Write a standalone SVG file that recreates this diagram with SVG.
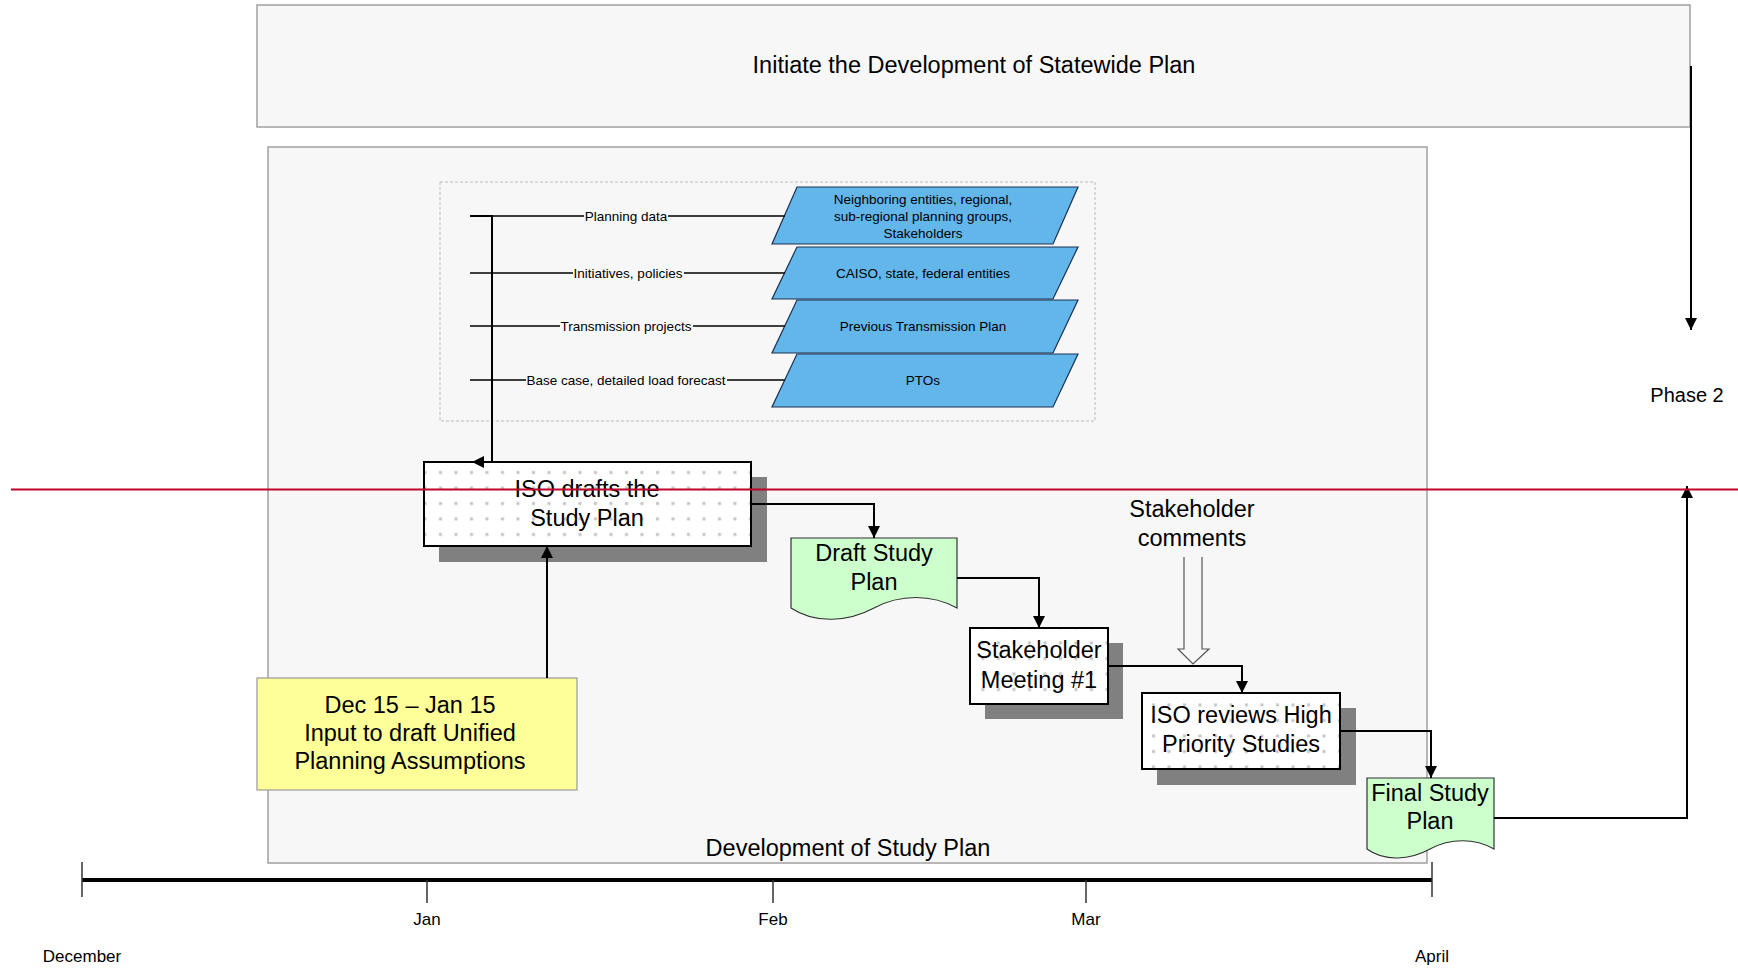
<svg xmlns="http://www.w3.org/2000/svg" width="1738" height="968" viewBox="0 0 1738 968">
<style>
text{font-family:"Liberation Sans",Arial,sans-serif;fill:#000;text-anchor:middle}
.big{font-size:23.5px}
.sm{font-size:13.5px}
.mon{font-size:17px}
.panel{fill:#f7f7f7;stroke:#a0a0a0;stroke-width:1.5}
.proc{fill:#fff;stroke:#000;stroke-width:2}
.dots{fill:url(#dots);stroke:none}
.shadow{fill:#808080}
.doc{fill:#ccffcc;stroke:#333;stroke-width:1.2}
.para{fill:#62b6ea;stroke:#1a3050;stroke-width:1.2}
.conn{fill:none;stroke:#000;stroke-width:2}
.thin{fill:none;stroke:#000;stroke-width:1.3}
.lblbg{fill:#f7f7f7}
.tick{stroke:#333;stroke-width:1.5}
</style>
<defs>
<pattern id="dots" width="15.5" height="15.5" patternUnits="userSpaceOnUse"><rect x="5" y="6" width="3" height="3" fill="#c4c4c4"/></pattern>
<marker id="arr" markerUnits="userSpaceOnUse" markerWidth="12" markerHeight="12" refX="12" refY="6" orient="auto"><path d="M0,0 L12,6 L0,12 Z" fill="#000"/></marker>
</defs>
<rect width="1738" height="968" fill="#fff"/>

<g id="statewide-plan">
<rect class="panel" x="257" y="5" width="1433" height="122"/>
<text class="big" x="974" y="73">Initiate the Development of Statewide Plan</text>
</g>

<g id="study-plan-container">
<rect class="panel" x="268" y="147" width="1159" height="716"/>
<text class="big" x="848" y="856">Development of Study Plan</text>
</g>

<g id="inputs-box">
<rect x="440" y="182" width="655" height="239" fill="#f7f7f7" stroke="#bbb" stroke-width="1" stroke-dasharray="3,2"/>
</g>

<g id="src-neighbors">
<polygon class="para" points="797,187 1078,187 1053,244 772,244"/>
<text class="sm" x="923" y="204">Neighboring entities, regional,</text>
<text class="sm" x="923" y="221">sub-regional planning groups,</text>
<text class="sm" x="923" y="238">Stakeholders</text>
</g>
<g id="src-caiso">
<polygon class="para" points="797,247 1078,247 1053,299 772,299"/>
<text class="sm" x="923" y="278">CAISO, state, federal entities</text>
</g>
<g id="src-prev-plan">
<polygon class="para" points="797,300 1078,300 1053,353 772,353"/>
<text class="sm" x="923" y="331">Previous Transmission Plan</text>
</g>
<g id="src-ptos">
<polygon class="para" points="797,354 1078,354 1053,407 772,407"/>
<text class="sm" x="923" y="385">PTOs</text>
</g>

<g id="iso-drafts">
<rect class="shadow" x="439" y="477" width="328" height="85"/>
<rect class="proc" x="424" y="462" width="327" height="84"/>
<rect class="dots" x="425" y="463" width="325" height="82"/>
<text class="big" x="587" y="497">ISO drafts the</text>
<text class="big" x="587" y="526">Study Plan</text>
</g>

<g id="draft-study-plan">
<path class="doc" d="M791,538 H957 V608 C932,594 900,594 874,608 C848,622 815,624 791,608 Z"/>
<text class="big" x="874" y="561">Draft Study</text>
<text class="big" x="874" y="590">Plan</text>
</g>

<g id="stakeholder-meeting">
<rect class="shadow" x="985" y="643" width="138" height="76"/>
<rect class="proc" x="970" y="628" width="138" height="76"/>
<rect class="dots" x="971" y="629" width="136" height="74"/>
<text class="big" x="1039" y="658">Stakeholder</text>
<text class="big" x="1039" y="688">Meeting #1</text>
</g>

<g id="stakeholder-comments">
<text class="big" x="1192" y="517">Stakeholder</text>
<text class="big" x="1192" y="546">comments</text>
<path d="M1184,557 V649 H1178 L1193,664 L1209,649 H1202 V557" fill="#f7f7f7" stroke="#555" stroke-width="1.2"/>
</g>

<g id="iso-reviews">
<rect class="shadow" x="1157" y="708" width="199" height="77"/>
<rect class="proc" x="1142" y="693" width="198" height="76"/>
<rect class="dots" x="1143" y="694" width="196" height="74"/>
<text class="big" x="1241" y="723">ISO reviews High</text>
<text class="big" x="1241" y="752">Priority Studies</text>
</g>

<g id="final-study-plan">
<path class="doc" d="M1367,778 H1494 V849 C1475,838 1450,838 1430,849 C1410,860 1385,862 1367,849 Z"/>
<text class="big" x="1430" y="801">Final Study</text>
<text class="big" x="1430" y="829">Plan</text>
</g>

<g id="upa-input">
<rect x="257" y="678" width="320" height="112" fill="#ffff99" stroke="#999" stroke-width="1.2"/>
<text class="big" x="410" y="713">Dec 15 – Jan 15</text>
<text class="big" x="410" y="741">Input to draft Unified</text>
<text class="big" x="410" y="769">Planning Assumptions</text>
</g>

<g id="phase2">
<text font-size="20" x="1687" y="402">Phase 2</text>
</g>

<g id="timeline">
<line x1="82" y1="880" x2="1432" y2="880" stroke="#000" stroke-width="4"/>
<line class="tick" x1="82" y1="862" x2="82" y2="897"/>
<line class="tick" x1="427" y1="880" x2="427" y2="903"/>
<line class="tick" x1="773" y1="880" x2="773" y2="903"/>
<line class="tick" x1="1086" y1="880" x2="1086" y2="903"/>
<line class="tick" x1="1432" y1="862" x2="1432" y2="897"/>
<text class="mon" x="427" y="925">Jan</text>
<text class="mon" x="773" y="925">Feb</text>
<text class="mon" x="1086" y="925">Mar</text>
<text class="mon" x="82" y="962">December</text>
<text class="mon" x="1432" y="962">April</text>
</g>

<g id="connectors">
<line class="thin" x1="470" y1="216" x2="785" y2="216"/>
<line class="thin" x1="470" y1="273" x2="785" y2="273"/>
<line class="thin" x1="470" y1="326" x2="785" y2="326"/>
<line class="thin" x1="470" y1="380" x2="785" y2="380"/>
<rect class="lblbg" x="584" y="208" width="84" height="16"/>
<text class="sm" x="626" y="221">Planning data</text>
<rect class="lblbg" x="573" y="265" width="111" height="16"/>
<text class="sm" x="628" y="278">Initiatives, policies</text>
<rect class="lblbg" x="560" y="318" width="133" height="16"/>
<text class="sm" x="626" y="331">Transmission projects</text>
<rect class="lblbg" x="526" y="372" width="201" height="16"/>
<text class="sm" x="626" y="385">Base case, detailed load forecast</text>
<path class="conn" d="M470,216 H492 V462 H472" marker-end="url(#arr)"/>
<path class="conn" d="M547,678 V546" marker-end="url(#arr)"/>
<path class="conn" d="M751,504 H874 V538" marker-end="url(#arr)"/>
<path class="conn" d="M957,578 H1039 V628" marker-end="url(#arr)"/>
<path class="conn" d="M1108,666 H1242 V693" marker-end="url(#arr)"/>
<path class="conn" d="M1340,731 H1431 V778" marker-end="url(#arr)"/>
<path class="conn" d="M1494,818 H1687 V486" marker-end="url(#arr)"/>
<path class="conn" d="M1691,66 V330" marker-end="url(#arr)"/>
</g>

<g id="phase-divider">
<line x1="11" y1="489.5" x2="1738" y2="489.5" stroke="#c0002a" stroke-width="2"/>
</g>
</svg>
